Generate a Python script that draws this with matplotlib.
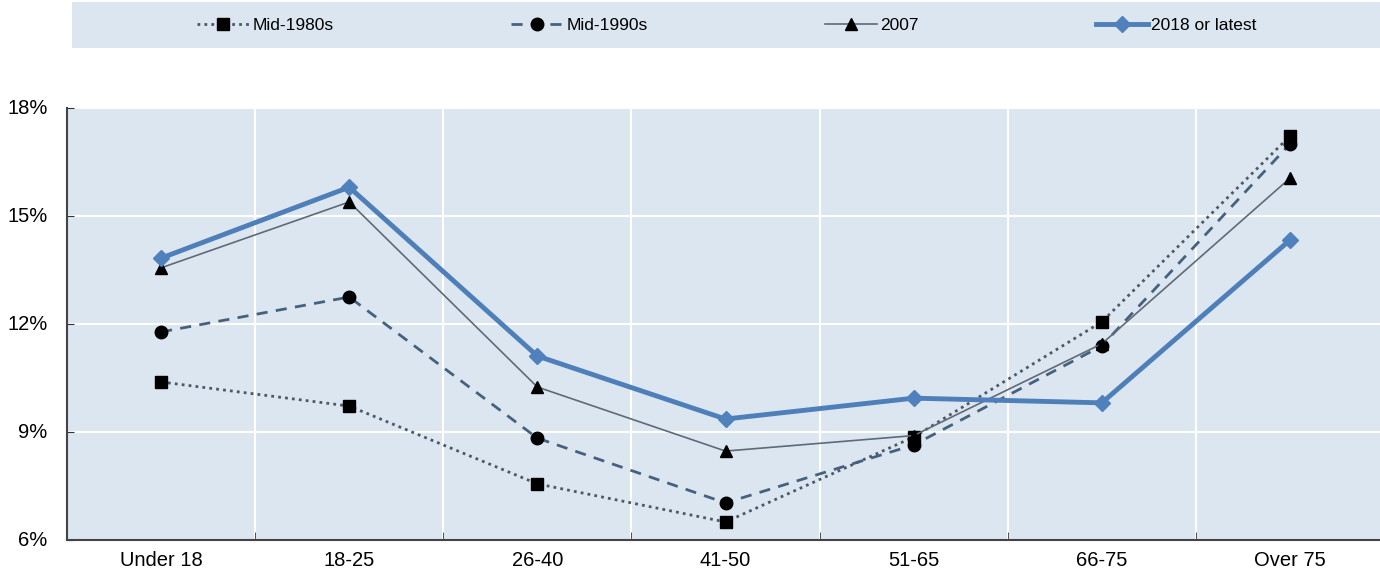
import matplotlib
matplotlib.use("Agg")
import matplotlib.pyplot as plt
from matplotlib.patches import Rectangle
from matplotlib.ticker import FixedLocator

plt.rcParams['font.family'] = ['Liberation Sans', 'DejaVu Sans']

categories = ["Under 18", "18-25", "26-40", "41-50", "51-65", "66-75", "Over 75"]
mid1980s = [10.39, 9.72, 7.56, 6.50, 8.86, 12.06, 17.22]
mid1990s = [11.78, 12.75, 8.83, 7.03, 8.64, 11.39, 17.00]
y2007 = [13.56, 15.39, 10.25, 8.47, 8.90, 11.45, 16.05]
y2018 = [13.83, 15.80, 11.11, 9.36, 9.94, 9.81, 14.33]
yticks = [6, 9, 12, 15, 18]

fig = plt.figure(figsize=(13.8, 5.78), dpi=100)
bg = "#dce6f1"
ax = fig.add_axes([67/1380, 1 - 540/578, (1384 - 67)/1380, (540 - 108)/578])
ax.set_facecolor(bg)
x = list(range(len(categories)))

l1, = ax.plot(x, mid1980s, linestyle=(0, (1, 1.5)), color="#4a5868", lw=2.0,
              marker="s", ms=9, mfc="black", mec="black", label="Mid-1980s", zorder=3)
l2, = ax.plot(x, mid1990s, linestyle=(0, (4, 3)), color="#46617d", lw=2.0,
              marker="o", ms=9, mfc="black", mec="black", label="Mid-1990s", zorder=3)
l3, = ax.plot(x, y2007, linestyle="-", color="#5e6a78", lw=1.2,
              marker="^", ms=9, mfc="black", mec="black", label="2007", zorder=3)
l4, = ax.plot(x, y2018, linestyle="-", color="#4f7fb8", lw=3.5,
              marker="D", ms=8, mfc="#4f81bd", mec="#4f81bd", label="2018 or latest", zorder=4)

ax.set_xlim(-0.5, len(categories) - 0.5)
ax.set_ylim(6, 18)
ax.set_xticks(x)
ax.set_xticklabels(categories, fontsize=14.5)
ax.xaxis.set_minor_locator(FixedLocator([i + 0.5 for i in range(len(categories) - 1)]))
ax.tick_params(axis="x", which="major", length=0, pad=8)
ax.tick_params(axis="x", which="minor", length=6, direction="in", color="#333333")
ax.set_yticks(yticks)
ax.set_yticklabels([f"{v}%" for v in yticks], fontsize=14.5)
ax.tick_params(axis="y", length=5, direction="in", color="#333333", pad=14)
for lab in ax.get_yticklabels():
    lab.set_verticalalignment("center")

ax.grid(True, axis="y", color="white", lw=1.5)
ax.grid(True, axis="x", which="minor", color="white", lw=1.5)
ax.set_axisbelow(True)
for s in ["top", "right"]:
    ax.spines[s].set_visible(False)
ax.spines["left"].set_color("#444444")
ax.spines["bottom"].set_color("#444444")
ax.spines["left"].set_linewidth(1.5)
ax.spines["bottom"].set_linewidth(1.5)

fig.patches.append(Rectangle((72/1380, 1 - 48/578), (1380 - 72)/1380, 46/578,
                             transform=fig.transFigure, facecolor=bg, edgecolor="none", zorder=0))
fig.legend(handles=[l1, l2, l3, l4], loc="center", bbox_to_anchor=(727/1380, 1 - 25/578),
           ncol=4, frameon=False, fontsize=12.5, columnspacing=10.2, handlelength=3.0,
           handletextpad=0.2)

fig.savefig("out.png", dpi=100, facecolor="white")
